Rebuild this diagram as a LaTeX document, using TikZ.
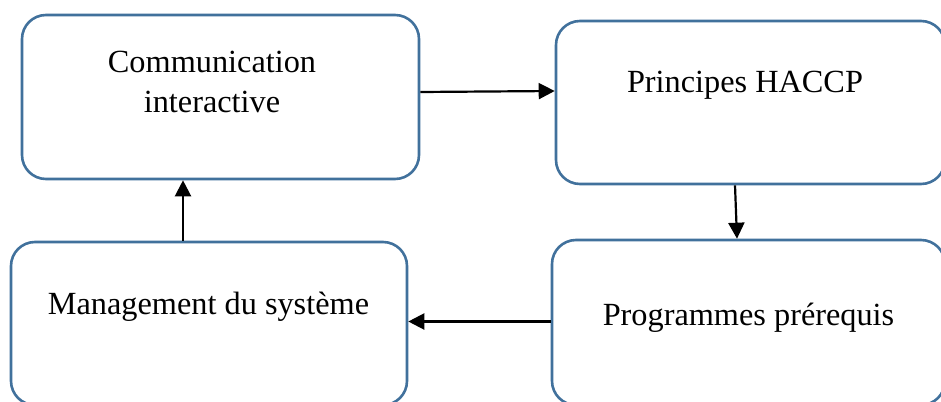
\documentclass[tikz,border=0pt]{standalone}
\usepackage{fontspec}
\setmainfont{Liberation Serif}
\usetikzlibrary{arrows.meta}
\definecolor{boxblue}{HTML}{41719C}
\tikzset{
  box/.style={draw=boxblue, line width=2.6pt, rounded corners=24pt, fill=white, inner sep=0pt},
  lbl/.style={font=\fontsize{32.3}{39}\selectfont, anchor=base, inner sep=0pt},
  arr/.style={line width=2.2pt, -{Triangle[length=16pt,width=16pt]}}
}
\begin{document}
\begin{tikzpicture}[x=1pt,y=-1pt]
\useasboundingbox (0,0) rectangle (941,401);
\clip (0,0) rectangle (941,401);
\fill[white] (0,0) rectangle (941,401);
\node[box, minimum width=397pt, minimum height=164pt] (b1) at (220.5,97) {};
\node[box, minimum width=389pt, minimum height=163pt] (b2) at (750.5,102.5) {};
\node[box, minimum width=396pt, minimum height=163pt] (b3) at (209,323.5) {};
\node[box, minimum width=393pt, minimum height=165pt] (b4) at (748.5,322.5) {};
\node[lbl] (t1a) at (212,73) {Communication};
\node[lbl] (t1b) at (212,112.5) {interactive};
\node[lbl] (t2) at (745,93) {Principes HACCP};
\node[lbl] (t3) at (208.5,314) {Management du système};
\node[lbl] (t4) at (748.5,325) {Programmes prérequis};
\draw[arr] ([yshift=5pt]b1.east) -- ([yshift=11.5pt]b2.west);
\draw[arr] ([xshift=-15.5pt]b2.south) -- ([xshift=-11.5pt]b4.north);
\draw[arr] ([yshift=1pt]b4.west) -- ([yshift=2pt]b3.east);
\draw[arr] ([xshift=-26pt]b3.north) -- ([xshift=-37.5pt]b1.south);
\end{tikzpicture}
\end{document}
